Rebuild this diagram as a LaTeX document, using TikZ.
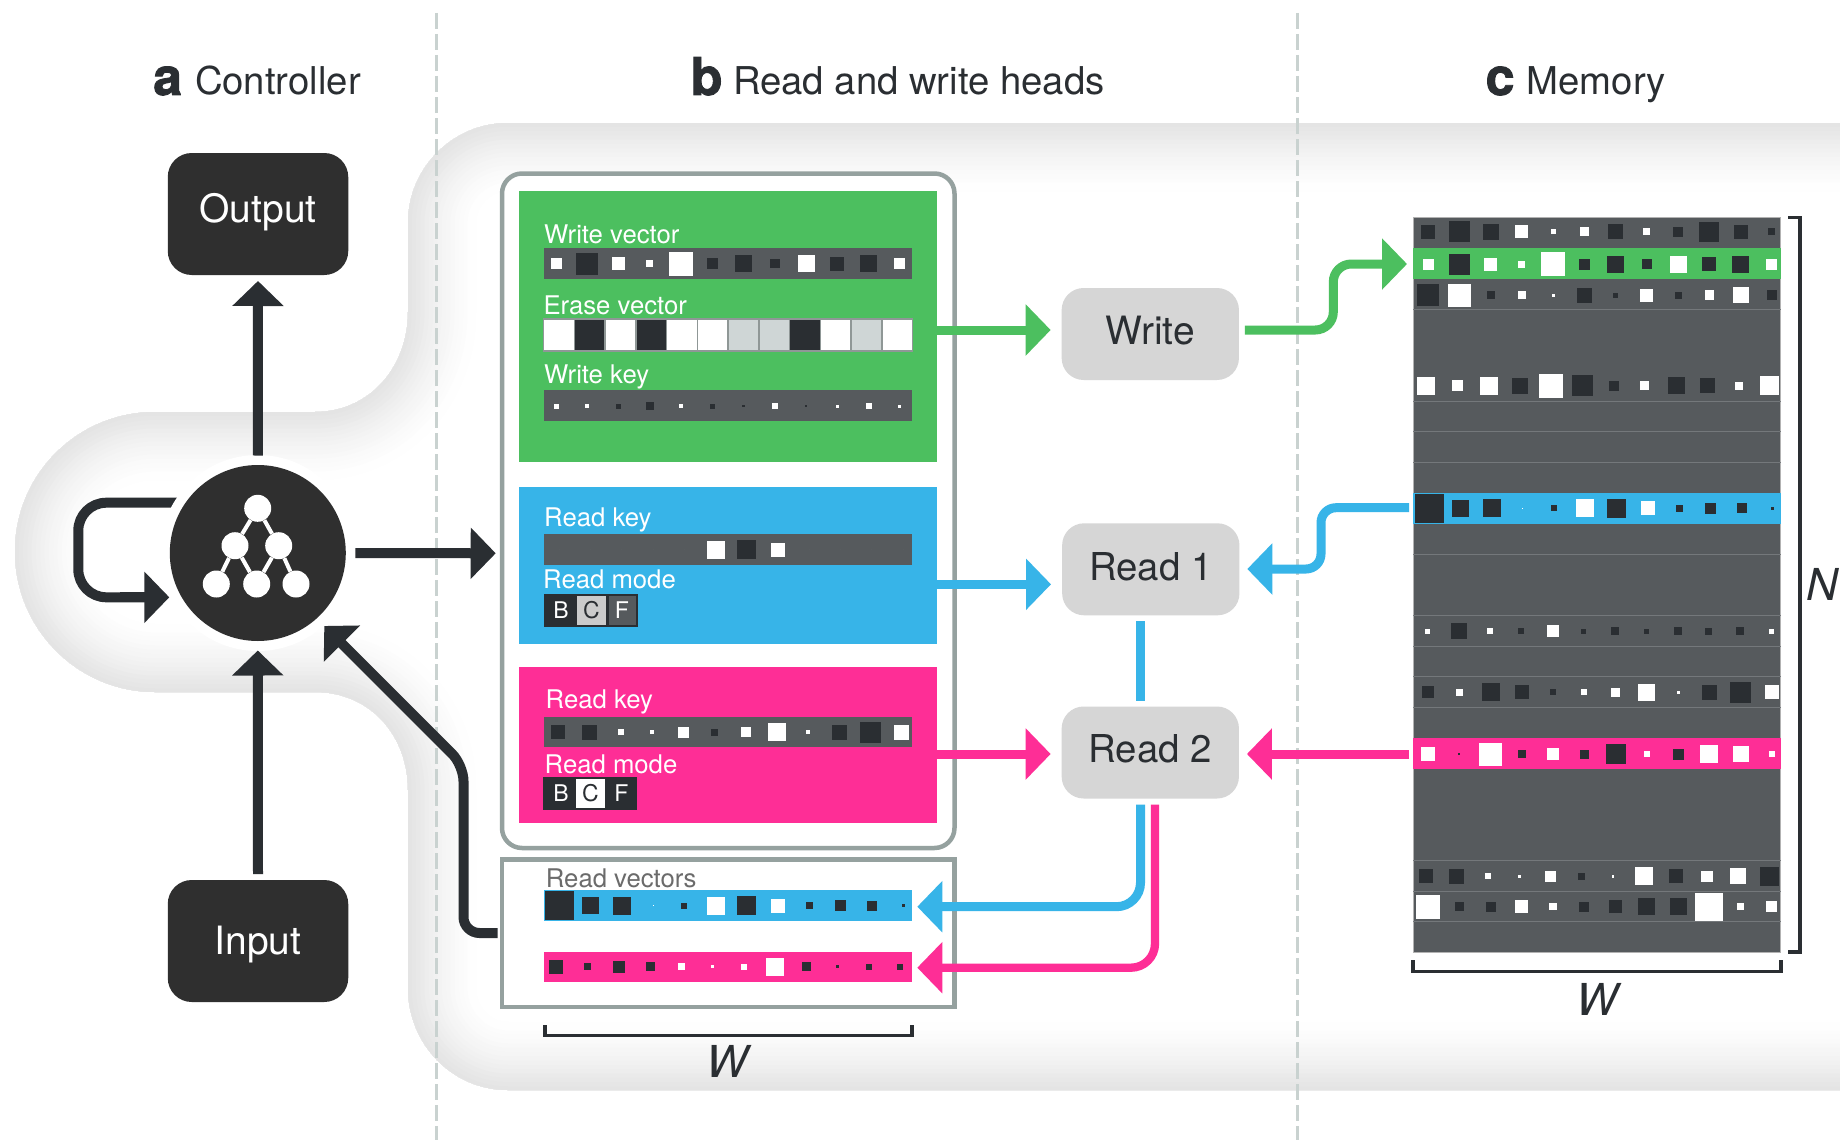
\documentclass[tikz,border=0pt]{standalone}
\usepackage{fontspec}
\setmainfont{TeX Gyre Heros}
\newfontfamily\heavyf{TeX Gyre Heros}[BoldFeatures={FakeBold=1.6}]
\usetikzlibrary{arrows.meta}
\definecolor{ink}{HTML}{2A2E32}
\definecolor{boxdark}{HTML}{2F2F2F}
\definecolor{bar}{HTML}{565A5D}
\definecolor{rowline}{HTML}{74787B}
\definecolor{grn}{HTML}{4CBF5F}
\definecolor{blu}{HTML}{37B4E8}
\definecolor{pnk}{HTML}{FE2E96}
\definecolor{frame}{HTML}{95A19F}
\definecolor{dash}{HTML}{C9D2D0}
\definecolor{boxgrey}{HTML}{D6D6D6}
\definecolor{eraselt}{HTML}{CFD6D6}
\definecolor{sqw}{HTML}{FFFFFF}
\definecolor{sqd}{HTML}{2A2E32}
\newcommand{\fsz}[1]{\fontsize{#1}{#1}\selectfont}
% vector of 12 squares: x of first centre, y centre, list size/colour
\newcommand{\vecrow}[3]{%
  \foreach \s/\c [count=\i from 0] in {#3}{%
    \fill[sq\c] ({#1+31.25*\i-\s/2},{#2-\s/2}) rectangle ({#1+31.25*\i+\s/2},{#2+\s/2});
  }%
}
\tikzset{
  lab/.style={anchor=base west,inner sep=0pt,text=white,font=\fsz{25.7}},
  head/.style={anchor=base west,inner sep=0pt,text=ink,font=\fsz{38.3}},
  letter/.style={anchor=base west,inner sep=0pt,text=ink,font=\fsz{52}\heavyf\bfseries},
  bigit/.style={anchor=base,inner sep=0pt,text=ink,font=\fsz{44}\itshape},
  ctlbox/.style={fill=boxdark,text=white,rounded corners=24pt,minimum width=180.5pt,minimum height=122pt,inner sep=0pt,font=\fsz{39},outer sep=6pt},
  headbox/.style={fill=boxgrey,text=ink,rounded corners=22pt,minimum width=177.3pt,minimum height=92pt,inner sep=0pt,font=\fsz{38.4},outer sep=6pt},
  block/.style={anchor=north west,inner sep=0pt,minimum width=417.7pt,outer sep=0pt},
  modecell/.style={anchor=center,inner sep=0pt,font=\fsz{23},text=white,minimum height=29pt},
  darrow/.style={draw=ink,line width=10pt,-{Triangle[length=25pt,width=50pt]}},
  carrow/.style={draw=#1,line width=9pt,-{Triangle[length=25pt,width=50pt]}},
  neuron/.style={circle,fill=white,minimum size=27pt,inner sep=0pt},
  vline/.style={draw=dash,line width=3.4pt,dash pattern=on 16pt off 5pt},
  bracket/.style={draw=ink,line width=3.5pt},
}
\begin{document}
\begin{tikzpicture}[x=1pt,y=-1pt]
\useasboundingbox (0,0) rectangle (1840,1140);
\fill[white] (0,0) rectangle (1840,1140);

% soft grey band
\begin{scope}
  \clip (0,0) rectangle (1840,1140);
  \def\bandpath{(1990,123) -- (508,123) .. controls (453,123) and (408,168) .. (408,223) -- (408,312) .. controls (408,367) and (370,412) .. (315,412) -- (155,412) .. controls (78,412) and (15,474) .. (15,551.5) .. controls (15,629) and (78,692) .. (155,692) -- (315,692) .. controls (370,692) and (408,735) .. (408,790) -- (408,988) .. controls (408,1044) and (452,1090) .. (508,1090) -- (1990,1090) -- cycle}
  \clip \bandpath;
  \foreach \i in {0,...,15}{
    \pgfmathsetmacro\w{136-8.6*\i}
    \pgfmathsetmacro\p{0.2+10.5*pow(\i/15,1.3)}
    \draw[line width=\w pt,color=black!\p!white] \bandpath;
  }
\end{scope}

% panel separators
\coordinate (s1t) at (436.6,13); \coordinate (s1b) at (436.6,1140);
\coordinate (s2t) at (1297.5,13); \coordinate (s2b) at (1297.5,1140);
\draw[vline] (s1t) -- (s1b);
\draw[vline] (s2t) -- (s2b);

% panel titles
\node[letter] (ta) at (153,95) {a};
\node[head] (tat) at (194.8,95) {Controller};
\node[letter] (tb) at (690.5,95) {b};
\node[head] (tbt) at (732.8,95) {Read and write heads};
\node[letter] (tc) at (1485.5,95) {c};
\node[head] (tct) at (1526.5,95) {Memory};

% controller nodes
\node[ctlbox,text height=17pt,text depth=0pt] (output) at (258,214) {Output};
\node[ctlbox,text height=26pt,text depth=0pt] (input) at (258,941) {Input};

% loop arrow (its end is cut by the ring round the controller)
\node[circle,fill=white,minimum size=176pt,inner sep=0pt,outer sep=9.5pt] (ctrlring) at (257.8,553) {};
\coordinate (loopa) at (185,502.7);
\coordinate (loopb) at (78.3,502.7);
\coordinate (loopc) at (78.3,597.3);
\coordinate (loopd) at (169.3,597.3);
\draw[draw=ink,line width=10pt,rounded corners=28pt] (loopa) -- (loopb) -- (loopc) -- (145,597.3);
\draw[darrow] (120,597.3) -- (loopd);
\fill[white] (ctrlring) circle (98);
\node[circle,fill=boxdark,minimum size=176pt,inner sep=0pt,outer sep=9.5pt] (ctrl) at (257.8,553) {};

% network icon
\node[neuron] (n1) at (257.7,508.3) {};
\node[neuron] (n2) at (235,545.7) {};
\node[neuron] (n3) at (278.7,545.7) {};
\node[neuron] (n4) at (216.3,584) {};
\node[neuron] (n5) at (256.7,584) {};
\node[neuron] (n6) at (296,584) {};
\draw[white,line width=4pt] (n1)--(n2) (n1)--(n3) (n2)--(n4) (n2)--(n5) (n3)--(n5) (n3)--(n6);

% frames
\node[draw=frame,line width=4.5pt,rounded corners=20pt,fill=white,anchor=north west,outer sep=0pt,minimum width=452.5pt,minimum height=674.5pt,inner sep=0pt] (headsframe) at (502,173.5) {};
\node[draw=frame,line width=4.5pt,fill=white,anchor=north west,outer sep=0pt,minimum width=452.5pt,minimum height=147.5pt,inner sep=0pt] (vecframe) at (502,859.5) {};

% blocks
\node[block,fill=grn,minimum height=271pt] (wblock) at (519,191) {};
\node[block,fill=blu,minimum height=156.7pt] (r1block) at (519,487) {};
\node[block,fill=pnk,minimum height=156.6pt] (r2block) at (519,666.7) {};

% green block
\node[lab] (t1) at (544,243.7) {Write vector};
\node[lab] (t2) at (543.3,314.3) {Erase vector};
\node[lab] (t3) at (544,383.7) {Write key};
\fill[bar] (544.3,248) rectangle (911.7,278.5);
\vecrow{556}{263.5}{11/w,22/d,13/w,7/w,24/w,11/d,17/d,9.5/d,17/w,14/d,17/d,11/w}
\fill[bar] (544.3,390) rectangle (911.7,420.7);
\vecrow{556}{406}{5/w,4/w,5/d,8/d,4/w,5/d,2.5/d,6/w,2.5/d,3/w,6/w,3/w}
\foreach \c [count=\i from 0] in {white,ink,white,ink,white,white,eraselt,eraselt,ink,white,eraselt,white}{
  \fill[\c,draw=frame!70!gray,line width=1.5pt] ({543.6+30.75*\i},319) rectangle ({543.6+30.75*(\i+1)},351);
}

% blue block
\node[lab] (t4) at (544,526) {Read key};
\node[lab] (t5) at (543,588.7) {Read mode};
\fill[bar] (544.3,534.3) rectangle (911.7,564.7);
\vecrow{559.3}{549.5}{0/w,0/w,0/w,0/w,0/w,18/w,19/d,14/w,0/w,0/w,0/w,0/w}
\fill[ink] (544,594) rectangle (638,627);
\node[modecell,minimum width=29.5pt] (m1) at (561,610.5) {B};
\node[modecell,fill=boxgrey!95!black,text=ink,minimum width=29pt] (m2) at (591.5,610.5) {C};
\node[modecell,fill=bar,minimum width=27pt] (m3) at (622,610.5) {F};

% pink block
\node[lab] (t6) at (545.5,708.7) {Read key};
\node[lab] (t7) at (544.5,773.3) {Read mode};
\fill[bar] (544.3,717.3) rectangle (911.7,747.3);
\vecrow{558}{732}{14/d,15/d,6/w,4/w,11/w,7/d,10/w,18/w,4/w,15/d,21/d,15/w}
\fill[ink] (543.3,776.7) rectangle (637.3,810);
\node[modecell,minimum width=29.5pt] (m4) at (561,793.3) {B};
\node[modecell,fill=white,text=ink,minimum width=28.5pt] (m5) at (590.5,793.3) {C};
\node[modecell,minimum width=30pt] (m6) at (621.5,793.3) {F};

% read vectors
\node[lab,text=black!58] (t8) at (545.7,887) {Read vectors};
\fill[blu] (544.3,890.3) rectangle (911.7,920.7);
\vecrow{559.3}{905.5}{29/d,17/d,18/d,1/w,6/d,18/w,19/d,14/w,7/d,11/d,10/d,3/d}
\fill[pnk] (544.3,951.7) rectangle (911.7,981.7);
\vecrow{556.3}{966.7}{14/d,7/d,12/d,9/d,7/w,2.5/w,6/w,18/w,9/d,3/d,6/d,6/d}

% W bracket of panel b
\coordinate (b1a) at (545,1025); \coordinate (b1b) at (545,1035.5);
\coordinate (b1c) at (912,1035.5); \coordinate (b1d) at (912,1025);
\draw[bracket] (b1a) -- (b1b) -- (b1c) -- (b1d);
\node[bigit] (w1) at (727,1077) {W};

% head boxes
\node[headbox,font=\fsz{39},text height=20.6pt,text depth=0pt] (write) at (1150.3,334) {Write};
\node[headbox,text height=21.4pt,text depth=0pt] (read1) at (1150.8,569.3) {Read 1};
\node[headbox,text height=19.6pt,text depth=0pt] (read2) at (1150.3,752.5) {Read 2};

% memory
\fill[bar,draw=black!30,line width=0.8pt] (1413.3,217.3) rectangle (1780.7,952.3);
\foreach \k in {3,6,7,8,11,13,14,15,16,21,22,23}{
  \draw[rowline,line width=1pt] (1413.3,{217.3+30.625*\k}) -- (1780.7,{217.3+30.625*\k});
}
\fill[grn] (1413.3,248) rectangle (1780.7,279);
\fill[blu] (1413.3,493) rectangle (1780.7,524);
\fill[pnk] (1413.3,738) rectangle (1780.7,769);
\vecrow{1428}{231.7}{14/d,21/d,16/d,13/w,5/w,9/w,15/d,7/w,10/d,20/d,14/d,7/d}
\vecrow{1428}{264}{11/w,21/d,13/w,7/w,24/w,11/d,17/d,9.5/d,17/w,14/d,17/d,11/w}
\vecrow{1428}{295}{22/d,23/w,8/d,8/w,3/w,15/d,5/d,13/w,7/d,9.5/w,16/w,10/d}
\vecrow{1426}{385.7}{18/w,11/w,18/w,16/d,24/w,21/d,10/d,9/w,17/d,15/d,8/w,19/w}
\vecrow{1429}{508.3}{29/d,17/d,18/d,1/w,6/d,18/w,19/d,14/w,7/d,11/d,10/d,3/d}
\vecrow{1427.5}{631}{5/w,16/d,6/w,6/d,12/w,5/d,8/d,5/d,8/d,7/d,8/d,5/w}
\vecrow{1428}{692.3}{12/d,7/w,18/d,14/d,6/d,6/w,9/w,17/w,3/w,15/d,21/d,14/w}
\vecrow{1428}{754}{14/w,2/d,23/w,8/d,12/w,9/d,20/d,6/w,11/d,18/w,16/w,6/w}
\vecrow{1425.7}{876.3}{14/d,15/d,6/w,3.5/w,11/w,7/d,2.5/w,18/w,14/d,11.5/w,16/w,19/d}
\vecrow{1428}{906.7}{24/w,9/d,10/d,13/w,7.5/w,10/d,13/d,17/d,17/d,28/w,7/w,11/w}

% memory brackets
\coordinate (b2a) at (1788,217.5); \coordinate (b2b) at (1800,217.5);
\coordinate (b2c) at (1800,952); \coordinate (b2d) at (1788,952);
\draw[bracket] (b2a) -- (b2b) -- (b2c) -- (b2d);
\coordinate (b3a) at (1413.2,960); \coordinate (b3b) at (1413.2,971.5);
\coordinate (b3c) at (1781,971.5); \coordinate (b3d) at (1781,960);
\draw[bracket] (b3a) -- (b3b) -- (b3c) -- (b3d);
\node[bigit] (w2) at (1597,1015) {W};
\node[bigit] (nn) at (1822,600) {N};

% controller arrows
\draw[darrow] (ctrl.north) -- (output.south);
\draw[darrow] (input.north) -- (ctrl.south);
\coordinate (hfin) at (495.7,553.3);
\draw[darrow] (ctrl.east) -- (hfin);
\coordinate (vf1) at (497.6,933);
\coordinate (vf2) at (463.5,933);
\coordinate (vf3) at (463.5,765.2);
\coordinate (ctin) at (324.3,626);
\draw[darrow,rounded corners=16pt] (vf1) -- (vf2) -- (vf3) -- (ctin);

% head connectors
\coordinate (memg) at (1407,264);
\coordinate (memb) at (1409,507.7);
\coordinate (memp) at (1409,754);
\draw[carrow=grn,shorten >=5pt] (wblock.east |- 0,330) -- (write.west |- 0,330);
\draw[carrow=grn,rounded corners=18pt] (write.east |- 0,330) -- (1333.3,330) -- (1333.3,264) -- (memg);
\draw[carrow=blu,shorten >=5pt] (r1block.east |- 0,584.3) -- (1056,584.3);
\draw[carrow=blu,rounded corners=15pt] (memb) -- (1321,507.7) -- (1321,569) -- (1247.3,569);
\draw[carrow=pnk,shorten >=5pt] (r2block.east |- 0,754) -- (read2.west |- 0,754);
\draw[carrow=pnk,shorten >=2pt] (memp) -- (read2.east |- 0,754);
\draw[draw=blu,line width=9pt] (read1.south -| 1140.5,0) -- (read2.north -| 1140.5,0);
\coordinate (vb) at (917.3,906.7);
\coordinate (vp) at (917.3,967.7);
\draw[carrow=blu,rounded corners=24pt] (read2.south -| 1140.5,0) -- (1140.5,906.7) -- (vb);
\draw[carrow=pnk,line width=8.3pt,rounded corners=24pt] (read2.south -| 1155,0) -- (1155,967.7) -- (vp);
\end{tikzpicture}
\end{document}
